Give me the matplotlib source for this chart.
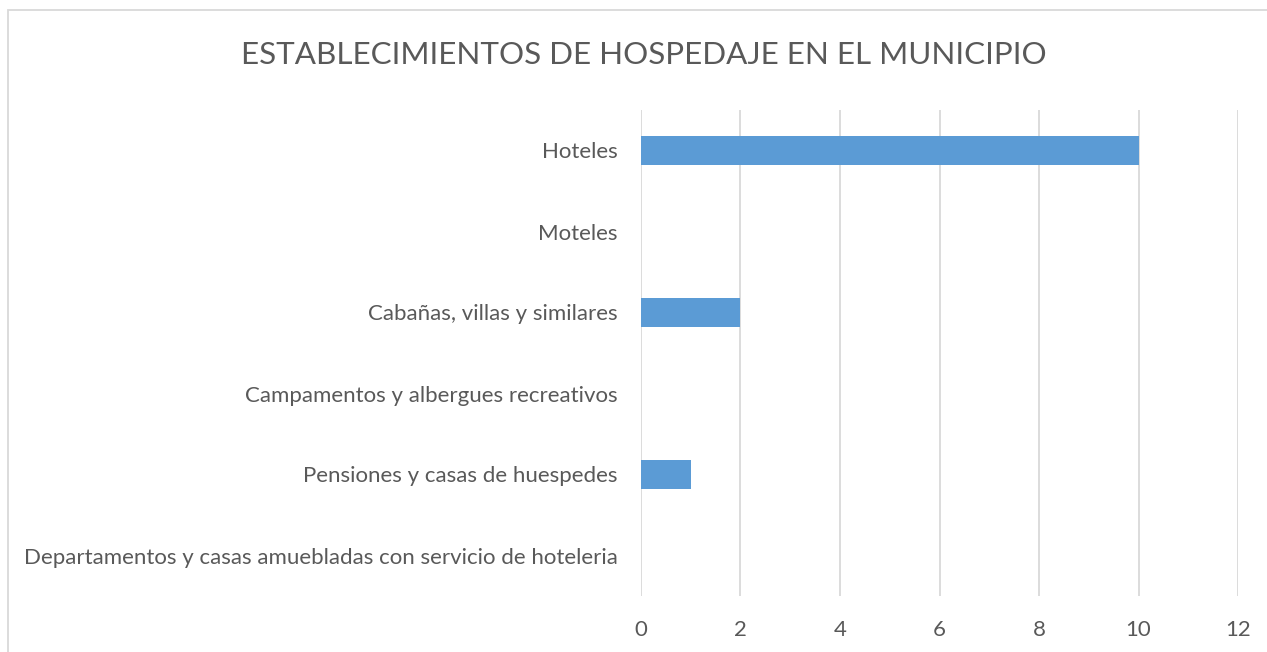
import matplotlib
matplotlib.use("Agg")
import matplotlib.pyplot as plt
from matplotlib.patches import Rectangle

categorias = ["Hoteles", "Moteles", "Cabañas, villas y similares",
              "Campamentos y albergues recreativos",
              "Pensiones y casas de huespedes",
              "Departamentos y casas amuebladas con servicio de hoteleria"]
valores = [10, 0, 2, 0, 1, 0]
ticks_x = [0, 2, 4, 6, 8, 10, 12]

gris = "#595959"
azul = "#5B9BD5"

plt.rcParams['font.family'] = ['Lato', 'DejaVu Sans']

fig = plt.figure(figsize=(12.67, 6.52), dpi=100)
ax = fig.add_axes([641/1267, 1 - 596/652, (1238 - 641)/1267, (596 - 110)/652])

pos = list(range(len(categorias)))
ax.barh(pos, valores, height=0.36, color=azul, zorder=3)
ax.set_ylim(len(categorias) - 0.5, -0.5)
ax.set_xlim(0, 12)
ax.set_xticks(ticks_x)
ax.set_yticks(pos)
ax.set_yticklabels(categorias)
ax.grid(axis="x", color="#D9D9D9", linewidth=1.3, zorder=0)
for s in ax.spines.values():
    s.set_visible(False)
ax.tick_params(length=0, labelsize=16, colors=gris)
ax.tick_params(axis="y", pad=17)
ax.tick_params(axis="x", pad=17)

fig.text(644/1267, 1 - 55/652, "ESTABLECIMIENTOS DE HOSPEDAJE EN EL MUNICIPIO",
         ha="center", va="center", fontsize=22.6, color=gris)

# borde del grafico
fig.patches.append(Rectangle((8/1267, -0.5), 2, 0.5 + (1 - 10/652), transform=fig.transFigure,
                             fill=False, edgecolor="#D9D9D9", linewidth=1.3))

fig.savefig("out.png", dpi=100)
